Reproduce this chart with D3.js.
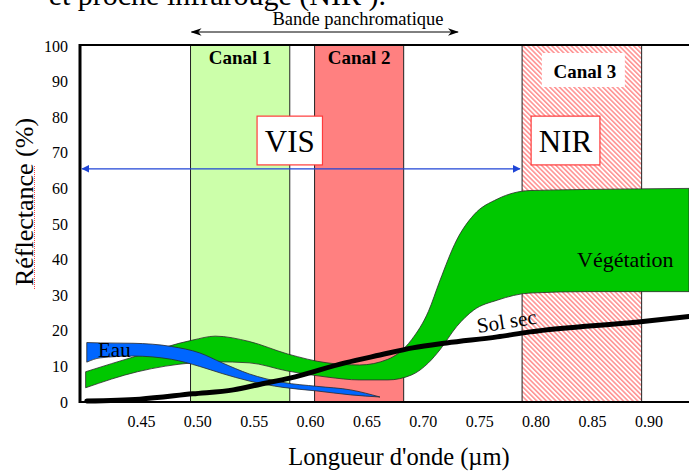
<!DOCTYPE html>
<html>
<head>
<meta charset="utf-8">
<script src="https://cdn.jsdelivr.net/npm/d3@7"></script>
<style>
  html, body { margin: 0; padding: 0; background: #fff; }
  svg, svg text { font-family: "Liberation Serif", "Times New Roman", Times, "DejaVu Serif", serif; }
  svg { display: block; }
</style>
</head>
<body>
<svg id="chart" width="689" height="471"></svg>
<script>
// wavelengths in µm, reflectance in %
const vegWl   = [0.401, 0.447, 0.496, 0.516, 0.546, 0.580, 0.615, 0.644, 0.669, 0.690, 0.705, 0.715, 0.730, 0.745, 0.766, 0.795, 0.846, 0.936];
const vegHigh = [8.5, 13, 17.4, 18.5, 17, 13.5, 11, 10.4, 12, 17.5, 25.5, 34, 45.5, 52.5, 57, 59.4, 59.7, 60];
const vegLow  = [4, 8.5, 11, 11.3, 11, 8.7, 7, 6.2, 6.2, 7.6, 11, 14.6, 21.2, 25.8, 28.6, 30.6, 31, 31];

const waterWl   = [0.402, 0.414, 0.443, 0.477, 0.502, 0.522, 0.546, 0.576, 0.606, 0.636, 0.662];
const waterHigh = [16.7, 16.6, 16.5, 15.6, 13.8, 11, 7.9, 5.5, 4.4, 3.4, 1.4];
const waterLow  = [11.2, 12.4, 12.9, 12, 10, 8, 5.9, 4.1, 3.1, 2.0, 1.4];

const soilWl  = [0.402, 0.449, 0.496, 0.532, 0.556, 0.582, 0.631, 0.662, 0.691, 0.721, 0.766, 0.795, 0.891, 0.936];
const soilVal = [0.3, 0.8, 2.3, 3.4, 5, 6.7, 11, 13.2, 15.2, 16.6, 18.3, 19.7, 22.5, 24];

const bandNames = ['Canal 1', 'Canal 2', 'Canal 3'];
const bandStart = [0.494, 0.604, 0.788];
const bandEnd   = [0.582, 0.683, 0.894];

const xTicks = [0.45, 0.50, 0.55, 0.60, 0.65, 0.70, 0.75, 0.80, 0.85, 0.90];
const yTicks = [0, 10, 20, 30, 40, 50, 60, 70, 80, 90, 100];

const serif = '"Liberation Serif", "Times New Roman", Times, "DejaVu Serif", serif';

const svg = d3.select('#chart');
const plotLeft = 80, plotRight = 689, plotTop = 45, plotBottom = 402;

const x = d3.scaleLinear().domain([0.396, 0.936]).range([plotLeft, plotRight]);
const y = d3.scaleLinear().domain([0, 100]).range([plotBottom, 46]);

// hatch for canal 3
const defs = svg.append('defs');
const hatch = defs.append('pattern')
  .attr('id', 'hatch')
  .attr('patternUnits', 'userSpaceOnUse')
  .attr('width', 3.4).attr('height', 3.4)
  .attr('patternTransform', 'rotate(-45)');
hatch.append('rect').attr('width', 3.4).attr('height', 3.4).attr('fill', '#fff');
hatch.append('line').attr('x1', 0.8).attr('y1', 0).attr('x2', 0.8).attr('y2', 3.4)
  .attr('stroke', '#ff8c8c').attr('stroke-width', 1.5);

const arrow = (id, color, open) => {
  const m = defs.append('marker')
    .attr('id', id)
    .attr('viewBox', '0 0 10 10')
    .attr('refX', 9).attr('refY', 5)
    .attr('markerWidth', 8).attr('markerHeight', 8)
    .attr('markerUnits', 'userSpaceOnUse')
    .attr('orient', 'auto-start-reverse');
  if (open) {
    m.attr('markerWidth', 11).attr('markerHeight', 11);
    m.append('path').attr('d', 'M0,1.5 L10,5 L0,8.5 L3,5 Z').attr('fill', color);
  } else {
    m.append('path').attr('d', 'M0,0 L10,5 L0,10 Z').attr('fill', color);
  }
};
arrow('arrBlue', '#1f45d6', false);
arrow('arrBlack', '#000', true);

// top text, cut by the window
svg.append('text')
  .attr('x', 386).attr('y', 5)
  .attr('text-anchor', 'end')
  .attr('font-size', 30)
  .text('et proche infrarouge (NIR ).');

// bands
const fills = ['#ccffaa', '#ff8080', 'url(#hatch)'];
svg.append('g').selectAll('rect')
  .data(bandNames)
  .join('rect')
  .attr('x', (d, i) => x(bandStart[i]))
  .attr('width', (d, i) => x(bandEnd[i]) - x(bandStart[i]))
  .attr('y', plotTop)
  .attr('height', plotBottom - plotTop)
  .attr('fill', (d, i) => fills[i])
  .attr('stroke', '#222')
  .attr('stroke-width', 1);

// canal labels
bandNames.forEach((name, i) => {
  const cx = (x(bandStart[i]) + x(bandEnd[i])) / 2;
  if (i === 2) {
    svg.append('rect')
      .attr('x', cx - 40).attr('y', 53)
      .attr('width', 83).attr('height', 34)
      .attr('fill', '#fff');
  }
  svg.append('text')
    .attr('x', cx + (i === 2 ? 3 : 0))
    .attr('y', i === 2 ? 78 : 64)
    .attr('text-anchor', 'middle')
    .attr('font-size', 19)
    .attr('font-weight', 'bold')
    .text(name);
});

// VIS / NIR boxes
[['VIS', 0.553, 0.611], ['NIR', 0.796, 0.857]].forEach(([t, a, b]) => {
  svg.append('rect')
    .attr('x', x(a)).attr('y', y(80.3))
    .attr('width', x(b) - x(a)).attr('height', y(66.6) - y(80.3))
    .attr('fill', '#fff')
    .attr('stroke', '#ff3b3b')
    .attr('stroke-width', 1.2);
  svg.append('text')
    .attr('x', (x(a) + x(b)) / 2).attr('y', y(66.6) - 13)
    .attr('text-anchor', 'middle')
    .attr('font-size', 31)
    .text(t);
});

// VIS/NIR arrow
svg.append('line')
  .attr('x1', x(0.398)).attr('x2', x(0.786))
  .attr('y1', y(65.5)).attr('y2', y(65.5))
  .attr('stroke', '#1f45d6')
  .attr('stroke-width', 1.3)
  .attr('marker-start', 'url(#arrBlue)')
  .attr('marker-end', 'url(#arrBlue)');

// panchromatic arrow
svg.append('line')
  .attr('x1', x(0.495)).attr('x2', x(0.731))
  .attr('y1', 32).attr('y2', 32)
  .attr('stroke', '#000')
  .attr('stroke-width', 1)
  .attr('marker-start', 'url(#arrBlack)')
  .attr('marker-end', 'url(#arrBlack)');
svg.append('text')
  .attr('x', 358).attr('y', 25)
  .attr('text-anchor', 'middle')
  .attr('font-size', 18.5)
  .text('Bande panchromatique');

// curves
const curve = d3.curveMonotoneX;
const vegArea = d3.area()
  .x((d, i) => x(vegWl[i]))
  .y0((d, i) => y(vegLow[i]))
  .y1((d, i) => y(vegHigh[i]))
  .curve(curve);
svg.append('path')
  .attr('d', vegArea(vegWl))
  .attr('fill', '#00c800')
  .attr('stroke', '#2a2a2a')
  .attr('stroke-width', 0.8);

const waterArea = d3.area()
  .x((d, i) => x(waterWl[i]))
  .y0((d, i) => y(waterLow[i]))
  .y1((d, i) => y(waterHigh[i]))
  .curve(curve);
svg.append('path')
  .attr('d', waterArea(waterWl))
  .attr('fill', '#0066ff')
  .attr('stroke', '#2a2a2a')
  .attr('stroke-width', 0.8);

const soilLine = d3.line()
  .x((d, i) => x(soilWl[i]))
  .y((d, i) => y(soilVal[i]))
  .curve(curve);
svg.append('path')
  .attr('d', soilLine(soilWl))
  .attr('fill', 'none')
  .attr('stroke', '#000')
  .attr('stroke-width', 5)
  .attr('stroke-linecap', 'round');

// frame
svg.append('line').attr('x1', plotLeft).attr('x2', plotRight).attr('y1', plotTop).attr('y2', plotTop)
  .attr('stroke', '#000').attr('stroke-width', 2);
svg.append('line').attr('x1', plotLeft).attr('x2', plotRight).attr('y1', plotBottom).attr('y2', plotBottom)
  .attr('stroke', '#000').attr('stroke-width', 2);
svg.append('line').attr('x1', plotLeft).attr('x2', plotLeft).attr('y1', plotTop - 1).attr('y2', plotBottom + 1)
  .attr('stroke', '#000').attr('stroke-width', 3);

// axes (labels only)
const yAxis = d3.axisLeft(y).tickValues(yTicks).tickSize(0).tickPadding(12);
svg.append('g')
  .attr('transform', `translate(${plotLeft},0)`)
  .call(yAxis)
  .attr('font-family', serif)
  .call(g => g.select('.domain').remove())
  .selectAll('text')
  .attr('font-size', 16)
  .attr('fill', '#000');

const xAxis = d3.axisBottom(x).tickValues(xTicks).tickSize(0).tickPadding(14).tickFormat(d3.format('.2f'));
svg.append('g')
  .attr('transform', `translate(0,${plotBottom})`)
  .call(xAxis)
  .attr('font-family', serif)
  .call(g => g.select('.domain').remove())
  .selectAll('text')
  .attr('font-size', 16)
  .attr('fill', '#000');

// axis titles
svg.append('text')
  .attr('x', 399).attr('y', 465)
  .attr('text-anchor', 'middle')
  .attr('font-size', 24.5)
  .text("Longueur d'onde (\u00b5m)");

svg.append('text')
  .attr('transform', 'translate(33,202) rotate(-90)')
  .attr('text-anchor', 'middle')
  .attr('font-size', 26)
  .text('Réflectance (%)');
// spell-check squiggle under "Réflectance"
svg.append('line')
  .attr('x1', 34.5).attr('x2', 34.5).attr('y1', 166).attr('y2', 289)
  .attr('stroke', '#ff4040').attr('stroke-width', 1)
  .attr('stroke-dasharray', '1,1');

// curve labels
svg.append('text').attr('x', 98).attr('y', 357).attr('font-size', 21).text('Eau');
svg.append('text').attr('x', 577).attr('y', 267).attr('font-size', 22).text('Végétation');
svg.append('text')
  .attr('transform', 'translate(478,333) rotate(-9)')
  .attr('font-size', 21)
  .text('Sol sec');
</script>
</body>
</html>
